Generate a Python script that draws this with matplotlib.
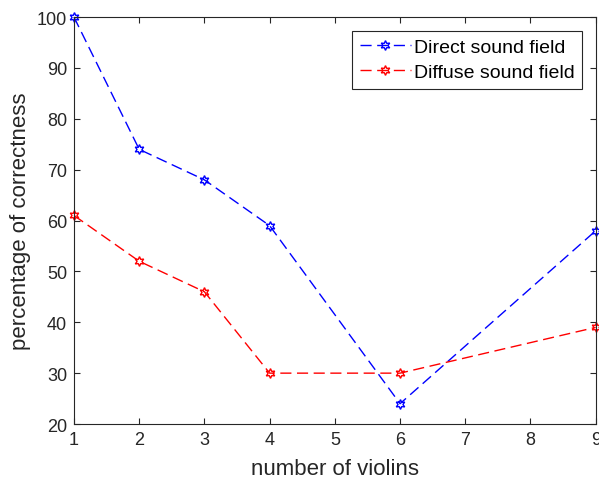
import matplotlib.pyplot as plt

violins = [1, 2, 3, 4, 6, 9]
direct = [100, 74, 68, 59, 24, 58]
diffuse = [61, 52, 46, 30, 30, 39]

plt.rcParams['font.family'] = 'Liberation Sans'

fig = plt.figure(figsize=(5.99, 4.81), dpi=100)
ax = fig.add_axes([0.1235, 0.1164, 0.871, 0.846])

hexagram = (6, 1, 0)
ax.plot(violins, direct, color='blue', linestyle='--', dashes=(8, 4), linewidth=1,
        marker=hexagram, markersize=7, markerfacecolor='none', markeredgewidth=1,
        label='Direct sound field', clip_on=False)
ax.plot(violins, diffuse, color='red', linestyle='--', dashes=(8, 4), linewidth=1,
        marker=hexagram, markersize=7, markerfacecolor='none', markeredgewidth=1,
        label='Diffuse sound field', clip_on=False)

ax.set_xlim(1, 9)
ax.set_ylim(20, 100)
ax.set_xticks(range(1, 10))
ax.set_yticks(range(20, 101, 10))
ax.tick_params(direction='in', labelsize=13, colors='#262626', top=True, right=True,
               length=4, pad=5)
for s in ax.spines.values():
    s.set_color('#262626')
    s.set_linewidth(0.8)
ax.set_xlabel('number of violins', fontsize=16, color='#262626', labelpad=7)
ax.set_ylabel('percentage of correctness', fontsize=16, color='#262626', labelpad=4)

leg = ax.legend(loc='upper right', bbox_to_anchor=(0.974, 0.967), fontsize=14,
                fancybox=False, edgecolor='#262626', framealpha=1,
                handlelength=2.6, borderaxespad=0.0, borderpad=0.4,
                labelspacing=0.4, handletextpad=0.15)
leg.get_frame().set_linewidth(0.8)

fig.savefig('out.png', dpi=100)
